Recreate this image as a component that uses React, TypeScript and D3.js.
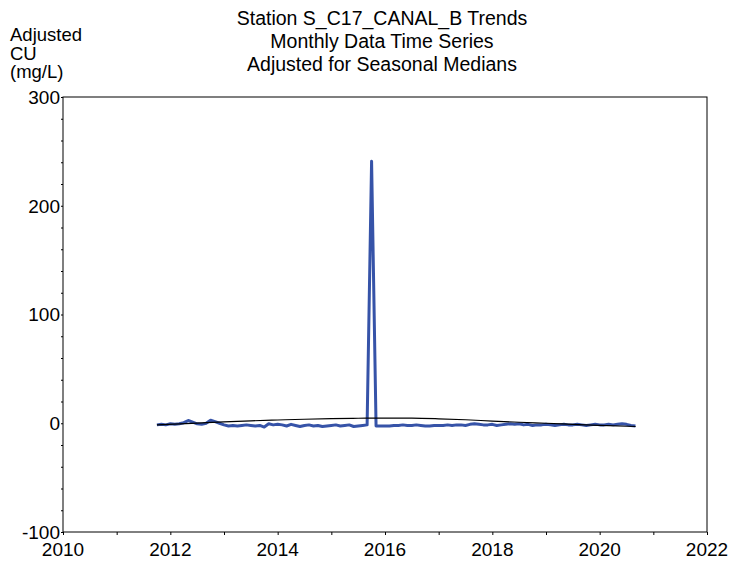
import React, { useEffect, useRef } from 'react';
import * as d3 from 'd3';

// monthly series starts Oct 2011
const startYear = 2011;
const startMonth = 9; // 0-based, October

const adjustedCU: number[] = [
  // 2011 Oct-Dec
  -1.5, -1, -1.5,
  // 2012
  -0.5, -1, -0.5, 0.5, 2.5, 1, -0.5, -1, 0, 2.8, 1.5, 0,
  // 2013
  -1.5, -2.5, -2, -2.5, -2, -1.5, -2, -2.5, -2, -3.5, -0.5, -1.5,
  // 2014
  -1, -1.5, -2.5, -1, -2, -3, -2, -1.5, -2.5, -2, -3, -2.5,
  // 2015
  -2, -1.5, -2.5, -2, -1.5, -3, -2.5, -2, -1.5, 241, -2.5, -2.5,
  // 2016
  -2.5, -2.5, -2, -2, -1.5, -2, -2, -1.5, -2, -2.5, -2.5, -2,
  // 2017
  -2, -2, -1.5, -2, -1.5, -1.5, -2, -1, -0.5, -1, -1.5, -1.5,
  // 2018
  -1, -2, -1.5, -1, -0.5, -1, -0.5, -1.5, -1, -2, -1.5, -1.5,
  // 2019
  -1, -1.5, -2, -1.5, -1, -1.5, -1.5, -1, -1.5, -2, -1.5, -1,
  // 2020 Jan-Sep
  -1.5, -1.5, -1, -1.5, -1, -0.5, -1, -2, -2.5
];

// smoothed trend
const trendYears = [2011.75, 2012.5, 2013, 2013.5, 2014, 2014.5, 2015, 2015.5, 2016, 2016.5, 2017, 2017.5, 2018, 2018.5, 2019, 2019.5, 2020, 2020.67];
const trendValues = [-1.5, 0.2, 1.3, 2.2, 3.0, 3.7, 4.2, 4.6, 4.8, 4.7, 4.1, 3.2, 2.0, 0.9, 0, -1.0, -2.0, -3.0];

const titleLines = ['Station S_C17_CANAL_B Trends', 'Monthly Data Time Series', 'Adjusted for Seasonal Medians'];
const yLabelLines = ['Adjusted', 'CU', '(mg/L)'];
const xTicks = [2010, 2012, 2014, 2016, 2018, 2020, 2022];
const yTicks = [-100, 0, 100, 200, 300];

const App: React.FC = () => {
  const ref = useRef<SVGSVGElement>(null);

  useEffect(() => {
    if (!ref.current) return;
    d3.select(ref.current).selectAll('*').remove();

    const W = 731, H = 562;
    const margin = { top: 97, right: 24, bottom: 30, left: 63 };
    const width = W - margin.left - margin.right;
    const height = H - margin.top - margin.bottom;
    const font = '"Liberation Sans", Arial, sans-serif';

    const svg = d3.select(ref.current).attr('width', W).attr('height', H);
    svg.append('rect').attr('width', W).attr('height', H).attr('fill', '#fff');

    const g = svg.append('g').attr('transform', `translate(${margin.left},${margin.top})`);

    const x = d3.scaleLinear().domain([2010, 2022]).range([0, width]);
    const y = d3.scaleLinear().domain([-100, 300]).range([height, 0]);

    // frame
    g.append('rect')
      .attr('width', width)
      .attr('height', height)
      .attr('fill', 'none')
      .attr('stroke', '#000')
      .attr('stroke-width', 1);

    // axes
    const xAxis = g.append('g')
      .attr('transform', `translate(0,${height})`)
      .call(d3.axisBottom(x).tickValues(d3.range(2010, 2023, 1)).tickSize(3).tickFormat(() => ''));
    xAxis.select('.domain').remove();

    xAxis.append('g').selectAll('text')
      .data(xTicks)
      .enter()
      .append('text')
      .attr('x', d => x(d))
      .attr('y', 24)
      .attr('text-anchor', 'middle')
      .attr('fill', '#000')
      .style('font-family', font)
      .style('font-size', '19px')
      .text(d => String(d));

    const yAxis = g.append('g')
      .call(d3.axisLeft(y).tickValues(d3.range(-100, 301, 20)).tickSize(2).tickFormat(() => ''));
    yAxis.select('.domain').remove();

    yAxis.append('g').selectAll('text')
      .data(yTicks)
      .enter()
      .append('text')
      .attr('x', -3)
      .attr('y', d => y(d))
      .attr('dy', '0.36em')
      .attr('text-anchor', 'end')
      .attr('fill', '#000')
      .style('font-family', font)
      .style('font-size', '19px')
      .text(d => String(d));

    // series
    const series = adjustedCU.map((v, i) => ({ t: startYear + (startMonth + i) / 12, v }));
    const line = d3.line<{ t: number; v: number }>().x(d => x(d.t)).y(d => y(d.v));

    g.append('path')
      .datum(series)
      .attr('d', line)
      .attr('fill', 'none')
      .attr('stroke', '#3653a8')
      .attr('stroke-width', 3)
      .attr('stroke-linejoin', 'round');

    const trend = trendYears.map((t, i) => ({ t, v: trendValues[i] }));
    g.append('path')
      .datum(trend)
      .attr('d', d3.line<{ t: number; v: number }>().x(d => x(d.t)).y(d => y(d.v)).curve(d3.curveMonotoneX))
      .attr('fill', 'none')
      .attr('stroke', '#000')
      .attr('stroke-width', 1.2);

    // title
    svg.append('g').selectAll('text')
      .data(titleLines)
      .enter()
      .append('text')
      .attr('x', 382)
      .attr('y', (d, i) => 25 + i * 23)
      .attr('text-anchor', 'middle')
      .style('font-family', font)
      .style('font-size', '19.5px')
      .text(d => d);

    // y label
    svg.append('g').selectAll('text')
      .data(yLabelLines)
      .enter()
      .append('text')
      .attr('x', 10)
      .attr('y', (d, i) => 41 + i * 18.5)
      .style('font-family', font)
      .style('font-size', '18.5px')
      .text(d => d);
  }, []);

  return (
    <div style={{ position: 'absolute', left: 0, top: 0 }}>
      <svg ref={ref} style={{ display: 'block' }}></svg>
    </div>
  );
};

export default App;
